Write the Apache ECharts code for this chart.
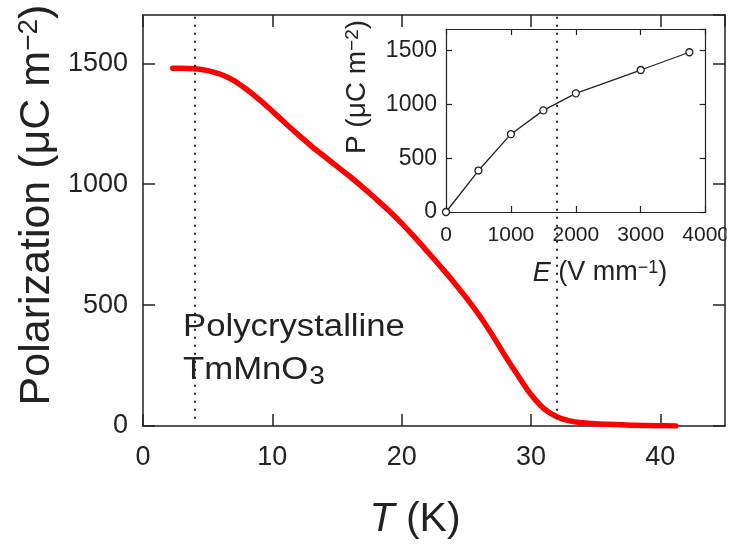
<!DOCTYPE html>
<html><head><meta charset="utf-8">
<script src="https://cdn.jsdelivr.net/npm/echarts@6/dist/echarts.min.js"></script>
<style>html,body{margin:0;padding:0;background:#fff}#c{width:732px;height:548px}</style>
</head><body><div id="c"></div>
<script>
// Main curve: P(T)
const temperatureK = [2.3, 3, 4, 5, 6, 7, 8, 9, 10, 11, 12, 13, 14, 15, 16, 17, 18, 19, 20, 21, 22, 23, 24, 25, 26, 27, 28, 29, 30, 31, 32, 33, 34, 35, 36, 37, 38, 39, 40, 41.2];
const polarization = [1480, 1480, 1478, 1470, 1455, 1430, 1393, 1350, 1302, 1253, 1205, 1159, 1116, 1074, 1032, 987, 940, 891, 838, 781, 721, 660, 597, 530, 458, 377, 290, 208, 130, 72, 38, 21, 13, 9, 7, 5, 3, 2, 1, 0];
// Inset: P(E)
const fieldE = [0, 500, 1000, 1500, 2000, 3000, 3750];
const polarizationE = [0, 385, 723, 944, 1102, 1319, 1484];
// Dotted marker temperatures
const markerT = [4, 32];

const FF = 'Liberation Sans, Arial, Helvetica, sans-serif';
const INK = '#222';
const plain = v => String(v);

// measure helper for subscript placement
const mctx = document.createElement('canvas').getContext('2d');
function textW(txt, size) { mctx.font = size + 'px ' + FF; return mctx.measureText(txt).width; }

const chart = echarts.init(document.getElementById('c'), null, {renderer: 'canvas'});

function axisCommon(extra) {
  return Object.assign({
    type: 'value',
    axisLine: {show: true, onZero: false, lineStyle: {color: INK, width: 1.5}},
    splitLine: {show: false},
  }, extra);
}

const polyX = 183, polyScale = 1.12, polySize = 31;
const subX = polyX + textW('TmMnO', polySize) * polyScale;

const option = {
  animation: false,
  backgroundColor: '#fff',
  grid: [
    {left: 143, top: 15, width: 582, height: 411, show: false},
    {left: 446, top: 29, width: 261, height: 183, show: true, backgroundColor: '#fff', borderWidth: 0, z: 5}
  ],
  xAxis: [
    axisCommon({gridIndex: 0, position: 'bottom', min: 0, max: 45, interval: 10,
      axisTick: {inside: true, length: 12, lineStyle: {color: INK, width: 1.5}},
      axisLabel: {fontSize: 27, fontFamily: FF, color: INK, margin: 18, showMaxLabel: false, formatter: plain}}),
    axisCommon({gridIndex: 0, position: 'top', min: 0, max: 45, interval: 10,
      axisTick: {inside: true, length: 12, lineStyle: {color: INK, width: 1.5}},
      axisLabel: {show: false}}),
    axisCommon({gridIndex: 1, position: 'bottom', min: 0, max: 4000, interval: 1000, z: 6,
      axisLine: {show: true, onZero: false, lineStyle: {color: INK, width: 1.2}},
      axisTick: {inside: true, length: 6, lineStyle: {color: INK, width: 1.2}},
      axisLabel: {fontSize: 21, fontFamily: FF, color: INK, margin: 13, formatter: plain}}),
    axisCommon({gridIndex: 1, position: 'top', min: 0, max: 4000, interval: 1000, z: 6,
      axisLine: {show: true, onZero: false, lineStyle: {color: INK, width: 1.2}},
      axisTick: {inside: true, length: 6, lineStyle: {color: INK, width: 1.2}},
      axisLabel: {show: false}})
  ],
  yAxis: [
    axisCommon({gridIndex: 0, position: 'left', min: 0, max: 1700, interval: 500,
      axisTick: {inside: true, length: 12, lineStyle: {color: INK, width: 1.5}},
      axisLabel: {fontSize: 27, fontFamily: FF, color: INK, margin: 15, showMaxLabel: false, formatter: plain}}),
    axisCommon({gridIndex: 0, position: 'right', min: 0, max: 1700, interval: 500,
      axisTick: {inside: true, length: 12, lineStyle: {color: INK, width: 1.5}},
      axisLabel: {show: false}}),
    axisCommon({gridIndex: 1, position: 'left', min: 0, max: 1700, interval: 500, z: 6,
      axisLine: {show: true, onZero: false, lineStyle: {color: INK, width: 1.2}},
      axisTick: {inside: true, length: 6, lineStyle: {color: INK, width: 1.2}},
      axisLabel: {fontSize: 23, fontFamily: FF, color: INK, margin: 9, showMaxLabel: false, formatter: plain}}),
    axisCommon({gridIndex: 1, position: 'right', min: 0, max: 1700, interval: 500, z: 6,
      axisLine: {show: true, onZero: false, lineStyle: {color: INK, width: 1.2}},
      axisTick: {inside: true, length: 6, lineStyle: {color: INK, width: 1.2}},
      axisLabel: {show: false}})
  ],
  series: [
    {
      type: 'line', xAxisIndex: 0, yAxisIndex: 0,
      data: temperatureK.map((t, i) => [t, polarization[i]]),
      showSymbol: false, smooth: 0.35,
      lineStyle: {color: '#ff0000', width: 5.5, cap: 'round', join: 'round'},
      z: 2,
      markLine: {
        silent: true, symbol: ['none', 'none'], label: {show: false},
        lineStyle: {color: INK, width: 2, type: [2, 6]},
        data: markerT.map(t => [{coord: [t, 30]}, {coord: [t, 1700]}])
      }
    },
    {
      type: 'line', xAxisIndex: 2, yAxisIndex: 2,
      data: fieldE.map((e, i) => [e, polarizationE[i]]),
      symbol: 'circle', symbolSize: 7, showSymbol: true,
      lineStyle: {color: INK, width: 1.3},
      itemStyle: {color: '#fff', borderColor: INK, borderWidth: 1.3},
      z: 8
    }
  ],
  graphic: [
    {type: 'text', x: 37, y: 205, rotation: Math.PI / 2, z: 50,
      style: {text: '{a|Polarization (μC m}{s|−2}{a|)}', align: 'center', verticalAlign: 'middle',
        rich: {a: {fontSize: 43, fontFamily: FF, fill: INK}, s: {fontSize: 28, fontFamily: FF, fill: INK, verticalAlign: 'top'}}}},
    {type: 'text', x: 415, y: 520, z: 50,
      style: {text: '{i|T}{a| (K)}', align: 'center', verticalAlign: 'middle',
        rich: {i: {fontSize: 41, fontFamily: FF, fontStyle: 'italic', fill: INK}, a: {fontSize: 41, fontFamily: FF, fill: INK}}}},
    {type: 'text', x: 357, y: 87, rotation: Math.PI / 2, z: 50,
      style: {text: '{a|P (μC m}{s|−2}{a|)}', align: 'center', verticalAlign: 'middle',
        rich: {a: {fontSize: 28, fontFamily: FF, fill: INK}, s: {fontSize: 19, fontFamily: FF, fill: INK, verticalAlign: 'top'}}}},
    {type: 'text', x: 600, y: 273, z: 50,
      style: {text: '{i|E}{a| (V mm}{s|−1}{a|)}', align: 'center', verticalAlign: 'middle',
        rich: {i: {fontSize: 27, fontFamily: FF, fontStyle: 'italic', fill: INK}, a: {fontSize: 27, fontFamily: FF, fill: INK}, s: {fontSize: 18, fontFamily: FF, fill: INK, verticalAlign: 'top'}}}},
    {type: 'text', x: polyX, y: 327, z: 50, scaleX: polyScale,
      style: {text: 'Polycrystalline', align: 'left', verticalAlign: 'middle', fontSize: polySize, fontFamily: FF, fill: INK}},
    {type: 'text', x: polyX, y: 370, z: 50, scaleX: polyScale,
      style: {text: 'TmMnO', align: 'left', verticalAlign: 'middle', fontSize: polySize, fontFamily: FF, fill: INK}},
    {type: 'text', x: subX + 1, y: 377, z: 50, scaleX: polyScale,
      style: {text: '3', align: 'left', verticalAlign: 'middle', fontSize: 25, fontFamily: FF, fill: INK}},
    {type: 'rect', shape: {x: 726.5, y: 222, width: 6, height: 30}, style: {fill: '#fff'}, z: 100}
  ]
};
chart.setOption(option);
</script>
</body></html>
